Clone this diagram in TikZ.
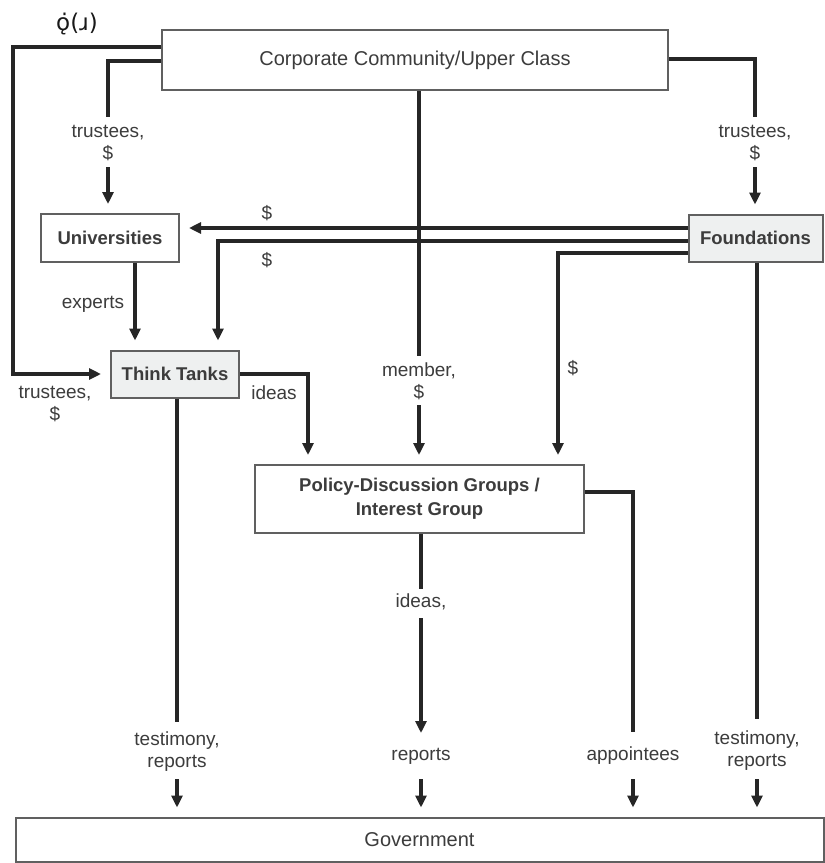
\documentclass[tikz,border=0pt]{standalone}
\usepackage{fontspec}
\setmainfont{Liberation Sans}
\newfontfamily\glyphfont{DejaVu Sans}
\usetikzlibrary{arrows.meta}
\definecolor{txt}{HTML}{3C3C3C}
\definecolor{ln}{HTML}{262626}
\definecolor{bd}{HTML}{606060}
\definecolor{fillg}{HTML}{EEF0F0}
\begin{document}
\begin{tikzpicture}[x=1pt,y=-1pt,
 box/.style={draw=bd,line width=2pt,fill=white,text=txt,font=\fontsize{20}{22}\selectfont,inner sep=0pt,align=center},
 boldbox/.style={box,font=\fontsize{18.5}{24}\selectfont\bfseries},
 lbl/.style={text=txt,font=\fontsize{19}{22}\selectfont,align=center,inner sep=0pt},
 line/.style={draw=ln,line width=3.1pt},
 arr/.style={line,-{Triangle[length=12pt,width=11pt]},shorten >=9pt},
]
\fill[white] (0,0) rectangle (825,863);
\useasboundingbox (0,0) rectangle (825,863);

% boxes
\node[box,minimum width=506pt,minimum height=60pt] (corp) at (415,60) {Corporate Community/Upper Class};
\node[boldbox,minimum width=138pt,minimum height=48pt] (univ) at (110,238) {Universities};
\node[boldbox,fill=fillg,minimum width=134pt,minimum height=47pt] (found) at (755.5,238) {Foundations};
\node[boldbox,fill=fillg,minimum width=128pt,minimum height=47pt] (tt) at (175,374) {Think Tanks};
\node[boldbox,minimum width=329pt,minimum height=68pt] (pol) at (419.5,499) {Policy-Discussion Groups /\\Interest Group};
\node[box,minimum width=808pt,minimum height=44pt] (gov) at (419.5,839.5) {Government};

% title glyphs
\node[text=black!90,font=\glyphfont\fontsize{23}{27}\selectfont,inner sep=0pt] (ttl) at (77,24) {ǫ̇(ɹ)};

% labels
\node[lbl] (l1) at (55,404) {trustees,\\\$};
\node[lbl] (l2) at (108,143) {trustees,\\\$};
\node[lbl] (l3) at (755,143) {trustees,\\\$};
\node[lbl] (l4) at (419,381) {member,\\\$};
\node[lbl] (l5) at (267,213) {\$};
\node[lbl] (l6) at (267,260) {\$};
\node[lbl] (l7) at (573,368) {\$};
\node[lbl] (l8) at (757,751) {testimony,\\reports};
\node[lbl] (l9) at (93,304) {experts};
\node[lbl] (l10) at (274,393) {ideas};
\node[lbl] (l11) at (177,752) {testimony,\\reports};
\node[lbl] (l12) at (421,602) {ideas,};
\node[lbl] (l13) at (421,756) {reports};
\node[lbl] (l14) at (633,756) {appointees};

% coordinates for broken connectors
\coordinate (c2a) at (108,117);
\coordinate (c2b) at (108,167);
\coordinate (c3a) at (755,117);
\coordinate (c3b) at (755,167);
\coordinate (c4a) at (419,356);
\coordinate (c4b) at (419,405);
\coordinate (c8a) at (757,719);
\coordinate (c8b) at (757,779);
\coordinate (c11a) at (177,722);
\coordinate (c11b) at (177,779);
\coordinate (c12a) at (421,589);
\coordinate (c12b) at (421,618);
\coordinate (c12c) at (421,742);
\coordinate (c12d) at (421,779);
\coordinate (c13a) at (633,732);
\coordinate (c13b) at (633,779);

% connectors
\draw[arr] (corp.west |- 0,47) -- (13,47) -- (13,374) -- (tt.west);
\draw[line] (corp.west |- 0,61) -| (c2a);
\draw[arr] (c2b) -- (c2b |- univ.north);
\draw[line] (corp.east |- 0,59) -| (c3a);
\draw[arr] (c3b) -- (c3b |- found.north);
\draw[line] (corp.south -| c4a) -- (c4a);
\draw[arr] (c4b) -- (c4b |- pol.north);

\draw[arr] (found.west |- 0,228) -- (univ.east |- 0,228);
\draw[arr] (found.west |- 0,241) -- (218,241) -- (218,241 |- tt.north);
\draw[arr] (found.west |- 0,253) -- (558,253) -- (558,253 |- pol.north);
\draw[line] (found.south -| c8a) -- (c8a);
\draw[arr] (c8b) -- (c8b |- gov.north);

\draw[arr] (univ.south -| 135,0) -- (tt.north -| 135,0);
\draw[arr] (tt.east) -- (308,374) -- (308,374 |- pol.north);
\draw[line] (tt.south -| c11a) -- (c11a);
\draw[arr] (c11b) -- (c11b |- gov.north);

\draw[line] (pol.south -| c12a) -- (c12a);
\draw[arr] (c12b) -- (c12c);
\draw[arr] (c12d) -- (c12d |- gov.north);
\draw[line] (pol.east |- 0,492) -| (c13a);
\draw[arr] (c13b) -- (c13b |- gov.north);
\end{tikzpicture}
\end{document}
